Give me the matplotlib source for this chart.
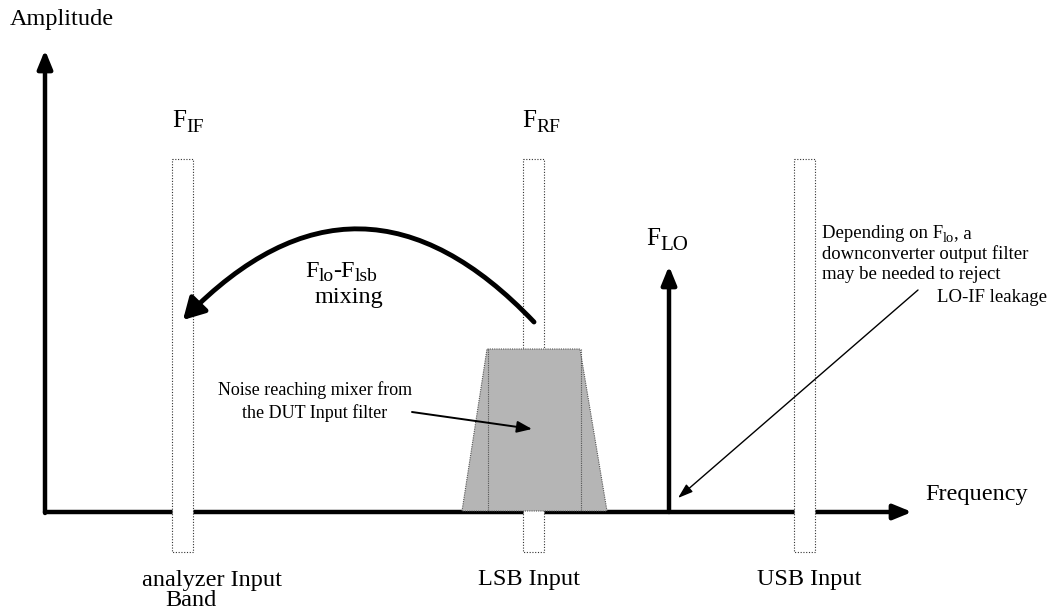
import matplotlib
matplotlib.use("Agg")
import matplotlib.pyplot as plt
from matplotlib.patches import Rectangle, Polygon, FancyArrowPatch
from matplotlib.transforms import ScaledTranslation

plt.rcParams['font.family'] = ['Liberation Serif', 'DejaVu Serif']

# diagram layout, in pixels of the 1053x611 picture (y down)
axis_origin = (45, 512)
axis_ends = (912, 50)
band_names = ["IF", "RF", "USB"]
band_left = [172, 523, 794]
band_width = 21
band_top = 159
band_bottom = 552
noise_top = [487, 580]
noise_bottom = [462, 607]
noise_levels = [349, 511]
lo_x = 669
lo_top = 266
mixing_curve = [(534, 322), (183, 320)]

fig = plt.figure(figsize=(10.53, 6.11), dpi=100)
ax = fig.add_axes([0, 0, 1, 1])
ax.set_xlim(0, 1053)
ax.set_ylim(611, 0)
ax.axis('off')
renderer = fig.canvas.get_renderer()


def sub_text(x, y, parts, size, subsize, drop=5):
    # draw text pieces one after another, subscripts smaller and lower
    dx = 0
    for s, is_sub in parts:
        tr = ax.transData + ScaledTranslation(dx / 100, (-drop / 100) if is_sub else 0,
                                              fig.dpi_scale_trans)
        t = ax.text(x, y, s, fontsize=subsize if is_sub else size, va='baseline',
                    ha='left', transform=tr, zorder=6)
        dx += t.get_window_extent(renderer).width


# axes arrows
ox, oy = axis_origin
head = dict(arrowstyle='-|>,head_length=1.1,head_width=0.45', lw=3.2, color='black',
            shrinkA=0, shrinkB=0)
ax.annotate('', xy=(axis_ends[0], oy), xytext=(ox, oy), arrowprops=head, zorder=1)
ax.annotate('', xy=(ox, axis_ends[1]), xytext=(ox, oy + 1), arrowprops=head, zorder=1)
ax.annotate('', xy=(lo_x, lo_top), xytext=(lo_x, oy), arrowprops=head, zorder=1)

# dotted bands, white inside so they break the axis
for x0 in band_left:
    ax.add_patch(Rectangle((x0, band_top), band_width, band_bottom - band_top, fc='white',
                           ls=(0, (1, 1.5)), lw=0.8, ec='#333333', zorder=2))

# noise trapezoid
tr = Polygon([(noise_bottom[0], noise_levels[1]), (noise_top[0], noise_levels[0]),
              (noise_top[1], noise_levels[0]), (noise_bottom[1], noise_levels[1])],
             closed=True, fc='#b5b5b5', ec='#555555', ls=(0, (1, 1)), lw=0.8, zorder=3)
ax.add_patch(tr)
for xv in noise_top:
    ax.plot([xv + 1, xv + 1], noise_levels, ls=(0, (1, 1)), lw=0.8, color='#555555', zorder=3)

# mixing curve arrow
arr = FancyArrowPatch(mixing_curve[0], mixing_curve[1], connectionstyle='arc3,rad=0.52',
                      arrowstyle='-|>,head_length=8,head_width=4.5', lw=3.5,
                      color='black', mutation_scale=1.6, shrinkA=0, shrinkB=0, zorder=5)
ax.add_patch(arr)

# thin annotation arrows
ax.annotate('', xy=(532, 429), xytext=(412, 412),
            arrowprops=dict(arrowstyle='-|>,head_length=0.9,head_width=0.35',
                            lw=1.4, color='black', shrinkA=0, shrinkB=0), zorder=5)
ax.annotate('', xy=(678, 498), xytext=(918, 290),
            arrowprops=dict(arrowstyle='-|>,head_length=0.9,head_width=0.3',
                            lw=1.0, color='black', shrinkA=0, shrinkB=0), zorder=5)

# labels
ax.text(10, 25, 'Amplitude', fontsize=17.5, va='baseline', ha='left')
ax.text(925, 500, 'Frequency', fontsize=17.5, va='baseline', ha='left')
sub_text(172, 127, [('F', False), ('IF', True)], 18, 14)
sub_text(522, 127, [('F', False), ('RF', True)], 18, 14)
sub_text(646, 245, [('F', False), ('LO', True)], 18, 15)
sub_text(305, 277, [('F', False), ('lo', True), ('-F', False), ('lsb', True)], 17.5, 14, drop=4)
ax.text(315, 303, 'mixing', fontsize=17.5, va='baseline', ha='left')
ax.text(315, 395, 'Noise reaching mixer from', fontsize=13, va='baseline', ha='center')
ax.text(315, 418, 'the DUT Input filter', fontsize=13, va='baseline', ha='center')
sub_text(822, 238, [('Depending on F', False), ('lo', True), (', a', False)], 13.5, 10.5, drop=4)
ax.text(822, 259, 'downconverter output filter', fontsize=13.5, va='baseline', ha='left')
ax.text(822, 279, 'may be needed to reject', fontsize=13.5, va='baseline', ha='left')
ax.text(937, 302, 'LO-IF leakage', fontsize=13.5, va='baseline', ha='left')
ax.text(142, 586, 'analyzer Input', fontsize=17.5, va='baseline', ha='left')
ax.text(165, 606, 'Band', fontsize=17.5, va='baseline', ha='left')
ax.text(478, 585, 'LSB Input', fontsize=17.5, va='baseline', ha='left')
ax.text(757, 585, 'USB Input', fontsize=17.5, va='baseline', ha='left')

fig.savefig('out.png', dpi=100, facecolor='white')
